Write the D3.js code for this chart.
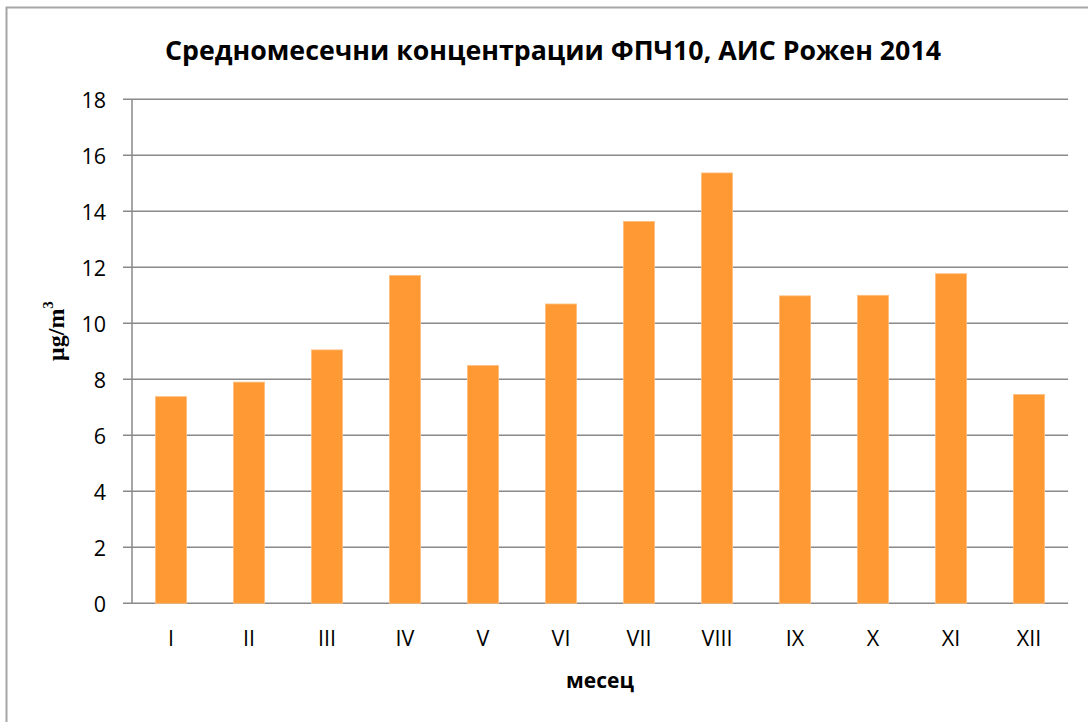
<!DOCTYPE html>
<html>
<head>
<meta charset="utf-8">
<script src="https://cdn.jsdelivr.net/npm/d3@7"></script>
<style>
body{margin:0;background:#fff;}
text{font-family:"Open Sans",sans-serif;fill:#000;}
</style>
</head>
<body>
<script>
// data
var months = ["I","II","III","IV","V","VI","VII","VIII","IX","X","XI","XII"];
var values = [7.38,7.90,9.05,11.71,8.49,10.69,13.64,15.37,10.98,11.0,11.77,7.46];
var yTicks = [0,2,4,6,8,10,12,14,16,18];

var W = 1088, H = 722;
var mLeft = 132, mRight = 1068, mTop = 99.3, mBottom = 603.3;

var svg = d3.select("body").append("svg").attr("width",W).attr("height",H);

// outer frame (only left and top edges visible)
svg.append("path")
    .attr("d","M6.5,"+H+"V7.5H"+W)
    .attr("fill","none")
    .attr("stroke","#a6a6a6")
    .attr("stroke-width","2");

var x = d3.scaleBand().domain(months).range([mLeft,mRight]).paddingInner(0.6).paddingOuter(0.3);
var y = d3.scaleLinear().domain([0,18]).range([mBottom,mTop]);

// gridlines
svg.selectAll("line.grid")
    .data(yTicks)
    .enter().append("line")
        .attr("class","grid")
        .attr("x1",mLeft-9)
        .attr("x2",mRight)
        .attr("y1",function(d){return y(d);})
        .attr("y2",function(d){return y(d);})
        .attr("stroke","#898989")
        .attr("stroke-width","1.5");

// bars
svg.selectAll("rect")
    .data(values)
    .enter().append("rect")
        .attr("x",function(d,i){return x(months[i]);})
        .attr("width",x.bandwidth())
        .attr("y",function(d){return y(d);})
        .attr("height",function(d){return mBottom-y(d);})
        .attr("fill","#FF9933")
        .attr("stroke","#FFBF80")
        .attr("stroke-width","0.8");

// y axis line
svg.append("line")
    .attr("x1",mLeft).attr("x2",mLeft)
    .attr("y1",mTop).attr("y2",mBottom)
    .attr("stroke","#898989")
    .attr("stroke-width","1.5");

// y tick labels
svg.selectAll("text.ytick")
    .data(yTicks)
    .enter().append("text")
        .attr("class","ytick")
        .attr("x",106)
        .attr("y",function(d){return y(d);})
        .attr("text-anchor","end")
        .attr("dominant-baseline","central")
        .attr("font-size","21.5")
        .text(function(d){return d;});

// x tick labels
svg.selectAll("text.xtick")
    .data(months)
    .enter().append("text")
        .attr("class","xtick")
        .attr("x",function(d){return x(d)+x.bandwidth()/2;})
        .attr("y",637)
        .attr("text-anchor","middle")
        .attr("dominant-baseline","central")
        .attr("font-size","21.5")
        .text(function(d){return d;});

// title
svg.append("text")
    .attr("x",553)
    .attr("y",60)
    .attr("text-anchor","middle")
    .attr("font-size","27")
    .attr("font-weight","bold")
    .attr("textLength","776")
    .attr("lengthAdjust","spacingAndGlyphs")
    .text("Средномесечни концентрации ФПЧ10, АИС Рожен 2014");

// x axis title
svg.append("text")
    .attr("x",(mLeft+mRight)/2)
    .attr("y",680)
    .attr("text-anchor","middle")
    .attr("dominant-baseline","central")
    .attr("font-size","21")
    .attr("font-weight","bold")
    .text("месец");

// y axis title
svg.append("text")
    .attr("transform","translate(56,331) rotate(-90)")
    .attr("text-anchor","middle")
    .attr("dominant-baseline","central")
    .attr("font-size","24")
    .attr("font-weight","bold")
    .style("font-family","'Liberation Serif',serif")
    .html("μg/m<tspan dy='-8' font-size='15'>3</tspan>");
</script>
</body>
</html>
